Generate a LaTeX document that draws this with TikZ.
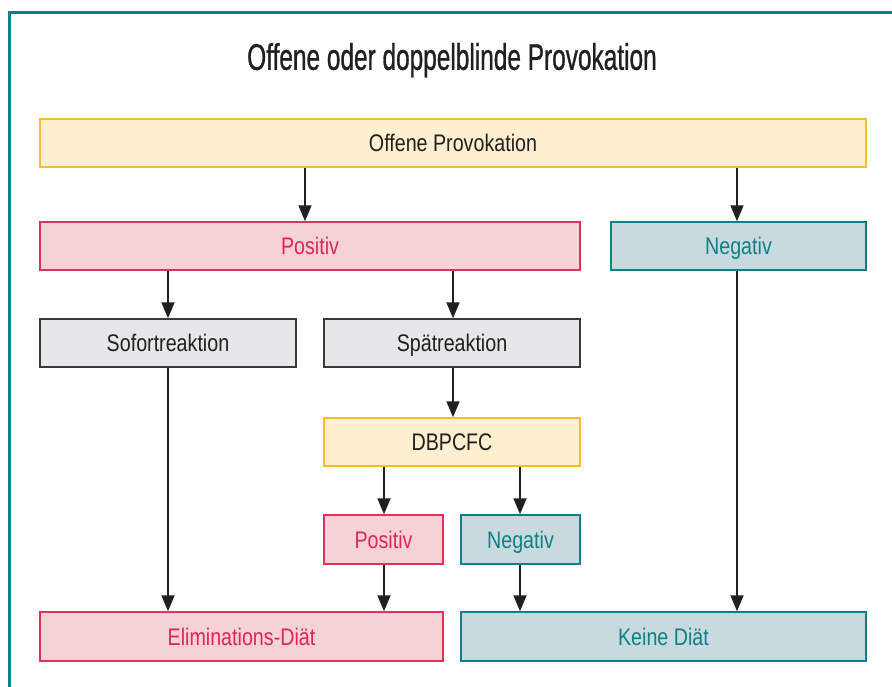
\documentclass[tikz,border=0pt]{standalone}
\usepackage{fontspec}
\setmainfont{Liberation Sans}[FakeStretch=0.82]
\newfontfamily\titlefont{Liberation Sans}[FakeStretch=0.66,FakeBold=0.8]
\usetikzlibrary{arrows.meta}
\definecolor{framecol}{HTML}{0E8089}
\definecolor{yelfill}{HTML}{FDEFD0}
\definecolor{yeldraw}{HTML}{FBBA30}
\definecolor{pinkfill}{HTML}{F5D3D5}
\definecolor{pinkdraw}{HTML}{E0305E}
\definecolor{pinktext}{HTML}{E0245E}
\definecolor{tealfill}{HTML}{C9DADF}
\definecolor{tealdraw}{HTML}{0E8089}
\definecolor{grayfill}{HTML}{E6E7E8}
\definecolor{graydraw}{HTML}{3A3A3A}
\definecolor{txt}{HTML}{231F20}
\tikzset{
  box/.style={rectangle, line width=1.5pt, inner sep=0pt, minimum height=48pt,
    text height=20pt, text depth=3pt,
    font=\fontsize{24}{28}\selectfont},
  yelbox/.style={box, fill=yelfill, draw=yeldraw, text=txt},
  pinkbox/.style={box, fill=pinkfill, draw=pinkdraw, text=pinktext},
  tealbox/.style={box, fill=tealfill, draw=tealdraw, text=tealdraw},
  graybox/.style={box, fill=grayfill, draw=graydraw, text=txt},
  arr/.style={line width=1.8pt, draw=txt, -{Triangle[length=16pt,width=13pt]}}
}
\begin{document}
\begin{tikzpicture}[x=1pt,y=-1pt]
\useasboundingbox (0,0) rectangle (892,686);
\fill[white] (0,0) rectangle (892,686);
\draw[framecol, line width=3pt] (9.5,690) -- (9.5,12.5) -- (895,12.5);
\node[text=txt, inner sep=0pt, text height=27pt, text depth=0pt, anchor=south,
  font=\titlefont\fontsize{37}{40}\selectfont] (title) at (452,70) {Offene oder doppelblinde Provokation};

\node[yelbox, minimum width=826pt] (top) at (453,143) {Offene Provokation};
\node[pinkbox, minimum width=540pt] (pos1) at (310,246) {Positiv};
\node[tealbox, minimum width=255pt] (neg1) at (738.5,246) {Negativ};
\node[graybox, minimum width=256pt] (sofort) at (168,343) {Sofortreaktion};
\node[graybox, minimum width=256pt] (spaet) at (452,343) {Spätreaktion};
\node[yelbox, minimum width=256pt] (dbp) at (452,442) {DBPCFC};
\node[pinkbox, minimum width=119pt, minimum height=49pt] (pos2) at (383.5,539.5) {Positiv};
\node[tealbox, minimum width=119pt, minimum height=49pt] (neg2) at (520.5,539.5) {Negativ};
\node[pinkbox, minimum width=403pt, minimum height=49pt] (elim) at (241.5,636.5) {Eliminations-Diät};
\node[tealbox, minimum width=405pt, minimum height=49pt] (keine) at (663.5,636.5) {Keine Diät};

\coordinate (xa) at (305,0);
\coordinate (xb) at (737,0);
\coordinate (xc) at (168,0);
\coordinate (xd) at (453,0);
\coordinate (xe) at (384,0);
\coordinate (xf) at (520,0);

\draw[arr] (top.south -| xa) -- (pos1.north -| xa);
\draw[arr] (top.south -| xb) -- (neg1.north -| xb);
\draw[arr] (pos1.south -| xc) -- (sofort.north -| xc);
\draw[arr] (pos1.south -| xd) -- (spaet.north -| xd);
\draw[arr] (sofort.south -| xc) -- (elim.north -| xc);
\draw[arr] (spaet.south -| xd) -- (dbp.north -| xd);
\draw[arr] (dbp.south -| xe) -- (pos2.north -| xe);
\draw[arr] (dbp.south -| xf) -- (neg2.north -| xf);
\draw[arr] (pos2.south -| xe) -- (elim.north -| xe);
\draw[arr] (neg2.south -| xf) -- (keine.north -| xf);
\draw[arr] (neg1.south -| xb) -- (keine.north -| xb);
\end{tikzpicture}
\end{document}
